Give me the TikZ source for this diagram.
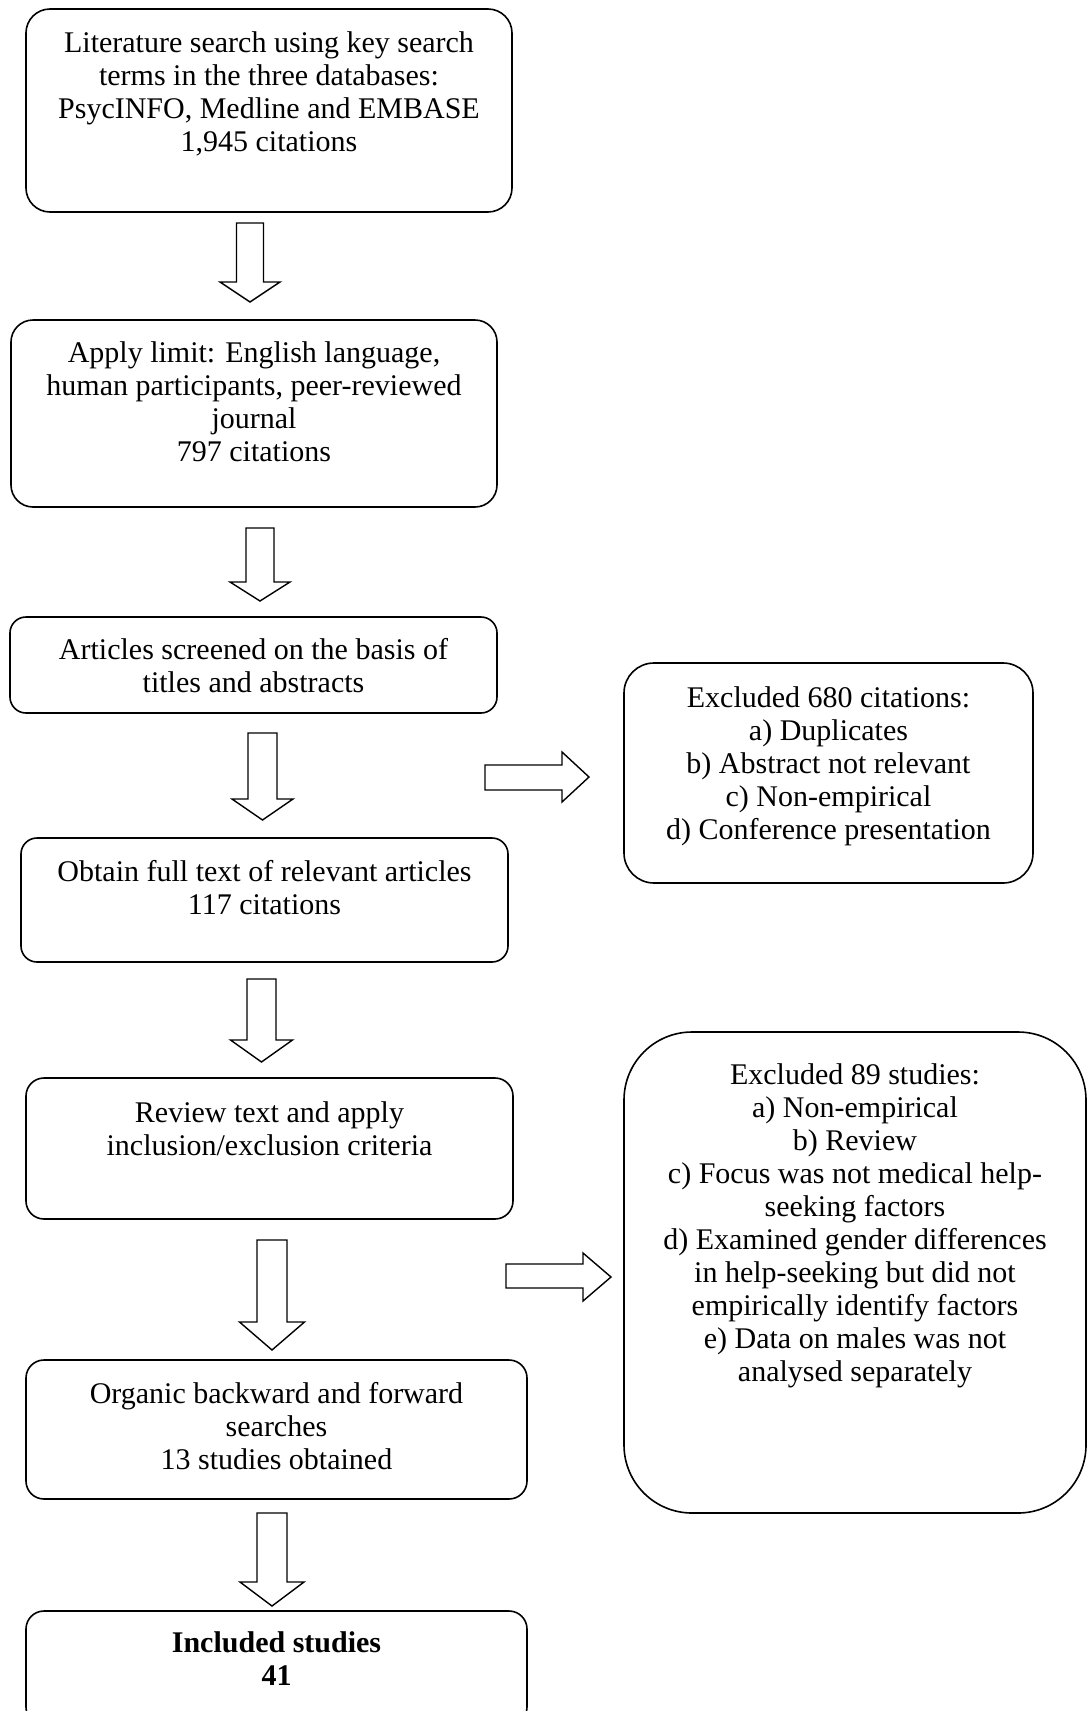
\documentclass[tikz,border=0pt]{standalone}
\usepackage{fontspec}
\setmainfont{Liberation Serif}
\tikzset{
  box/.style={draw, line width=1.6pt, rectangle, inner sep=0pt, fill=white},
  txt/.style={align=center, font=\fontsize{30}{33}\selectfont, inner sep=0pt},
  blk/.style={draw, line width=1.4pt, line join=miter, fill=white}
}
% down block arrow: cx, top, headstart, tip, shaft half width, head half width
\newcommand\dnblk[6]{%
  \draw[blk] ({#1-#5},#2) -- ({#1+#5},#2) -- ({#1+#5},#3) -- ({#1+#6},#3) -- (#1,#4)
    -- ({#1-#6},#3) -- ({#1-#5},#3) -- cycle;}
% right block arrow: left, shaft top, shaft bottom, head start, tip, head top, head bottom
\newcommand\rtblk[7]{%
  \draw[blk] (#1,#2) -- (#4,#2) -- (#4,#6) -- (#5,{(#6+#7)/2}) -- (#4,#7) -- (#4,#3) -- (#1,#3) -- cycle;}
\begin{document}
\begin{tikzpicture}[x=1pt,y=-1pt]
\useasboundingbox (0,0) rectangle (1088,1711);

% left column boxes
\node[box, rounded corners=24, minimum width=486, minimum height=203] (b1) at (269,110.5) {};
\node[box, rounded corners=22, minimum width=486, minimum height=187] (b2) at (254,413.5) {};
\node[box, rounded corners=16, minimum width=487, minimum height=96] (b3) at (253.5,665) {};
\node[box, rounded corners=16, minimum width=487, minimum height=124] (b4) at (264.5,900) {};
\node[box, rounded corners=18, minimum width=487, minimum height=141] (b5) at (269.5,1148.5) {};
\node[box, rounded corners=18, minimum width=501, minimum height=139] (b6) at (276.5,1429.5) {};
\node[box, rounded corners=18, minimum width=501, minimum height=114] (b7) at (276.5,1668) {};

% right column boxes
\node[box, rounded corners=30, minimum width=409, minimum height=220] (ra) at (828.5,773) {};
\node[box, rounded corners=68, minimum width=462, minimum height=481] (rb) at (855,1272.5) {};

% texts
\node[txt] (t1) at (b1.center |- 0,93.75) {Literature search using key search\\terms in the three databases:\\PsycINFO, Medline and EMBASE\\1,945 citations};
\node[txt] (t2) at (b2.center |- 0,402) {Apply limit: English language,\\human participants, peer-reviewed\\journal\\797 citations};
\node[txt] (t3) at (b3.center |- 0,666) {Articles screened on the basis of\\titles and abstracts};
\node[txt] (t4) at (b4.center |- 0,887.5) {Obtain full text of relevant articles\\117 citations};
\node[txt] (t5) at (b5.center |- 0,1128.5) {Review text and apply\\inclusion/exclusion criteria};
\node[txt] (t6) at (b6.center |- 0,1426) {Organic backward and forward\\searches\\13 studies obtained};
\node[txt] (t7) at (b7.center |- 0,1659) {\textbf{Included studies}\\\textbf{41}};
\node[txt] (ta) at (ra.center |- 0,766) {Excluded 680 citations:\\a) Duplicates\\b) Abstract not relevant\\c) Non-empirical\\d) Conference presentation};
\node[txt] (tb) at (rb.center |- 0,1226) {Excluded 89 studies:\\a) Non-empirical\\b) Review\\c) Focus was not medical help-\\seeking factors\\d) Examined gender differences\\in help-seeking but did not\\empirically identify factors\\e) Data on males was not\\analysed separately};

% down block arrows
\dnblk{250}{223}{282}{302}{13.5}{30}
\dnblk{260}{528}{582}{601}{14}{30}
\dnblk{262.5}{733}{799}{820}{14.5}{30.5}
\dnblk{261.5}{979}{1040}{1062}{14.5}{31}
\dnblk{272}{1240}{1322}{1350}{15}{32.5}
\dnblk{272}{1513}{1582}{1606}{15}{32}

% right block arrows
\rtblk{485}{765}{790}{562}{589}{752}{802}
\rtblk{506}{1264}{1288}{583}{611}{1253}{1301}
\end{tikzpicture}
\end{document}
